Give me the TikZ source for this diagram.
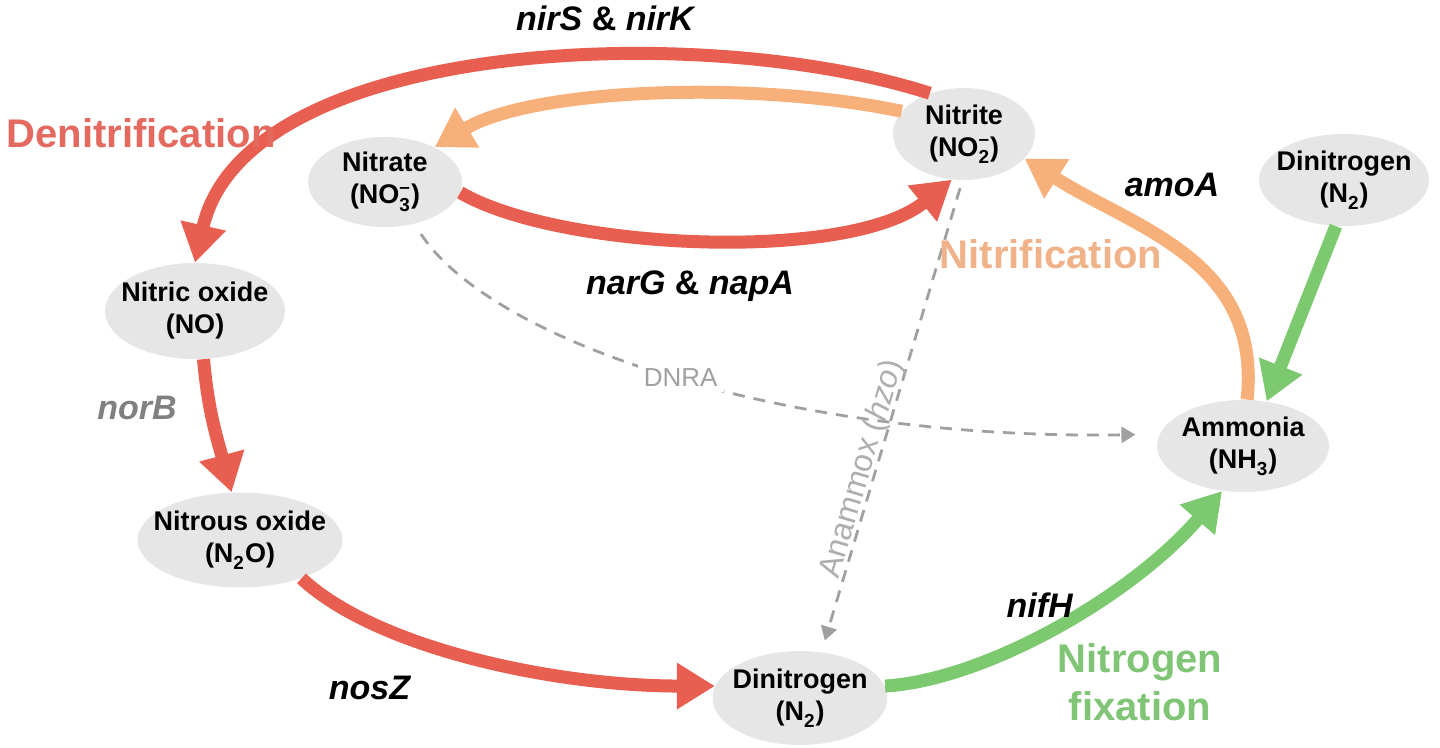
\documentclass[tikz,border=0pt]{standalone}
\usepackage{amsmath}
\usepackage{fontspec}
\setmainfont{Liberation Sans}
\usetikzlibrary{arrows.meta,shapes.geometric}
\definecolor{cred}{RGB}{232,94,80}
\definecolor{corange}{RGB}{248,176,122}
\definecolor{cgreen}{RGB}{125,201,112}
\definecolor{tred}{RGB}{228,106,96}
\definecolor{torange}{RGB}{240,178,136}
\definecolor{tgreen}{RGB}{128,196,118}
\definecolor{nodegray}{RGB}{230,230,230}
\definecolor{dashgray}{RGB}{160,160,160}
\newcommand{\nodefont}{\fontsize{13.5}{16}\selectfont\bfseries}
\newcommand{\genefont}{\fontsize{17}{20}\selectfont\bfseries}
\newcommand{\procfont}{\fontsize{20}{24}\selectfont\bfseries}
\newcommand{\ionsub}[2]{$_{\text{#1}}^{\text{#2}}$}

\begin{document}
\begin{tikzpicture}[x=0.5pt,y=-0.5pt,
    >={Triangle[width=22pt,length=19pt]},
    sp/.style={ellipse, fill=nodegray, inner xsep=-20pt, inner ysep=0pt, align=center, font=\nodefont},
    flux/.style={line width=6.5pt, ->},
    side/.style={draw=dashgray, line width=1.4pt, dash pattern=on 6pt off 4.5pt, -{Triangle[width=8pt,length=7pt]}},
    gene/.style={font=\genefont},
    proc/.style={font=\procfont, align=center}]
  \useasboundingbox (0,0) rectangle (1440,748);

  %% the seven nitrogen species
  \node (nitrite) at (964,134) [sp, minimum width=71pt, minimum height=46pt] {Nitrite\\(NO\ionsub{2}{–})};
  \node (nitrate) at (385,182) [sp, minimum width=77pt, minimum height=45pt] {Nitrate\\(NO\ionsub{3}{–})};
  \node (dinittop) at (1344,180) [sp, minimum width=85pt, minimum height=46pt] {Dinitrogen\\(N\ionsub{2}{})};
  \node (nitricox) at (195,311) [sp, minimum width=90pt, minimum height=48pt] {Nitric oxide\\(NO)};
  \node (ammonia) at (1243,446) [sp, minimum width=86pt, minimum height=46pt] {Ammonia\\(NH\ionsub{3}{})};
  \node (nitrousox) at (240,540) [sp, minimum width=102.5pt, minimum height=47.5pt] {Nitrous oxide\\(N\ionsub{2}{}O)};
  \node (dinitbot) at (800,698) [sp, minimum width=87.5pt, minimum height=47pt] {Dinitrogen\\(N\ionsub{2}{})};

  %% dashed side routes
  \draw[side, shorten <=6pt, shorten >=12pt] (nitrate.-55) .. controls +(76,116) and +(-380,6) .. (ammonia.172)
    node[pos=0.51, fill=white, text=dashgray, font=\fontsize{13}{15}\selectfont, inner sep=3pt] (dnra) {DNRA};
  \draw[side, shorten <=4pt, shorten >=6pt] (nitrite.-92) -- (dinitbot.65)
    node[pos=0.62, sloped, above=-5pt, text=dashgray!85, font=\fontsize{16}{18}\selectfont] (anammox) {Anammox (\textit{hzo})};

  %% denitrification
  \draw[flux, cred] (nitrite.130) .. controls +(-230,-74) and +(50,-223) .. (nitricox.north);
  \draw[flux, cred] (nitrate.-8) .. controls +(100,58) and +(-102,83) .. (nitrite.-105);
  \draw[flux, cred] (nitricox.-80) to[out=-85,in=105] (nitrousox.100);
  \draw[flux, cred] (nitrousox.-32) .. controls +(75,70) and +(-160,0) .. (dinitbot.172);
  %% nitrification
  \draw[flux, corange] (nitrite.160) .. controls +(-152,-32) and +(96,-58) .. (nitrate.35);
  \draw[flux, corange] (ammonia.85) .. controls +(15,-140) and +(110,70) .. (nitrite.-22);
  %% fixation
  \draw[flux, cgreen] (dinittop.-100) -- (ammonia.62);
  \draw[flux, cgreen] (dinitbot.8) .. controls +(100,-6) and +(-90,105) .. (ammonia.-115);

  %% labels
  \node (nirlab) at (606,18) [gene] {\textit{nirS} \& \textit{nirK}};
  \node (narlab) at (690,286) [gene] {\textit{narG} \& \textit{napA}};
  \node (amolab) at (1172,185) [gene] {\textit{amoA}};
  \node (norlab) at (137,408) [gene, text=gray] {\textit{norB}};
  \node (noslab) at (370,688) [gene] {\textit{nosZ}};
  \node (niflab) at (1040,605) [gene] {\textit{nifH}};
  \node (denit) at (141,133) [proc, text=tred] {Denitrification};
  \node (nitrif) at (1051,254) [proc, text=torange] {Nitrification};
  \node (fix) at (1140,682) [proc, text=tgreen] {Nitrogen\\fixation};
\end{tikzpicture}
\end{document}
